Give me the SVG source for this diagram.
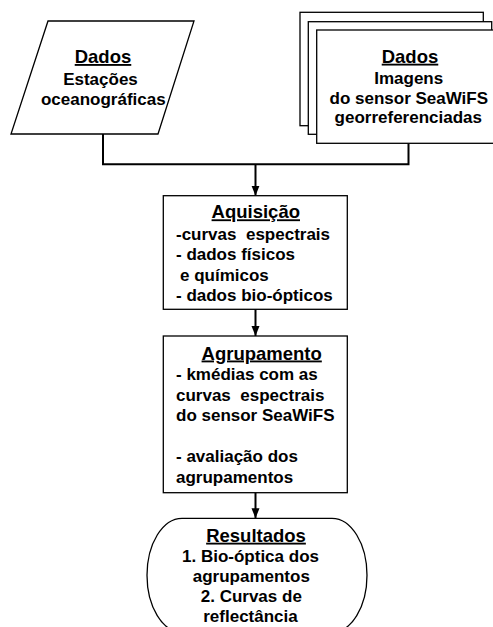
<svg xmlns="http://www.w3.org/2000/svg" width="493" height="627" viewBox="0 0 493 627">
<style>
.shape{fill:#fff;stroke:#000;stroke-width:1.3}
.line{fill:none;stroke:#000;stroke-width:2}
text{font-family:"Liberation Sans",Arial,sans-serif;font-weight:bold;font-size:17px;fill:#000}
.h{font-size:18.5px;text-decoration:underline}
.c{text-anchor:middle}
</style>
<defs>
<marker id="arr" markerWidth="10" markerHeight="10" refX="10" refY="4" orient="auto" markerUnits="userSpaceOnUse">
<path d="M0,0 L10,4 L0,8 Z" fill="#000"/>
</marker>
</defs>
<rect width="493" height="627" fill="#fff"/>
<g id="connectors">
<polyline class="line" points="103,134 103,164.3 408.5,164.3 408.5,143.3"/>
<line class="line" x1="255.5" y1="164.3" x2="255.5" y2="195.7" marker-end="url(#arr)"/>
<line class="line" x1="255.5" y1="309.3" x2="255.5" y2="336" marker-end="url(#arr)"/>
<line class="line" x1="255.5" y1="492.7" x2="255.5" y2="518.3" marker-end="url(#arr)"/>
</g>
<g id="dados-estacoes">
<polygon class="shape" points="48,21 194,21 158,134 11,134"/>
<text class="h c" x="103" y="63">Dados</text>
<text class="c" x="100.5" y="84.5">Estações</text>
<text class="c" x="103.3" y="105">oceanográficas</text>
</g>
<g id="dados-imagens">
<rect class="shape" x="300" y="12.3" width="183.3" height="113.4"/>
<rect class="shape" x="308.3" y="21.7" width="183.4" height="112.6"/>
<rect class="shape" x="316.7" y="30" width="190" height="113.3"/>
<text class="h c" x="410" y="62.7">Dados</text>
<text class="c" x="408.7" y="84">Imagens</text>
<text class="c" x="408.8" y="103.5">do sensor SeaWiFS</text>
<text class="c" x="408.3" y="123">georreferenciadas</text>
</g>
<g id="aquisicao">
<rect class="shape" x="163.3" y="195.7" width="184" height="113.6"/>
<text class="h c" x="255.8" y="218.3">Aquisição</text>
<text x="176" y="240" xml:space="preserve">-curvas  espectrais</text>
<text x="176" y="260.3">- dados físicos</text>
<text x="180" y="280.5">e químicos</text>
<text x="176" y="300.7">- dados bio-ópticos</text>
</g>
<g id="agrupamento">
<rect class="shape" x="163.3" y="336" width="184" height="156.7"/>
<text class="h c" x="261.7" y="359.5">Agrupamento</text>
<text x="176" y="380">- kmédias com as</text>
<text x="176" y="400.5" xml:space="preserve">curvas  espectrais</text>
<text x="176" y="421">do sensor SeaWiFS</text>
<text x="176" y="462">- avaliação dos</text>
<text x="176" y="482.5">agrupamentos</text>
</g>
<g id="resultados">
<path class="shape" d="M182,518.3 H332 A35,57 0 0 1 332,632.3 H182 A35,57 0 0 1 182,518.3 Z"/>
<text class="h c" x="256" y="541.7">Resultados</text>
<text class="c" x="250.5" y="561.7">1. Bio-óptica dos</text>
<text class="c" x="251.3" y="581.7">agrupamentos</text>
<text class="c" x="251.3" y="601.7">2. Curvas de</text>
<text class="c" x="250.5" y="621.7">reflectância</text>
</g>
</svg>
